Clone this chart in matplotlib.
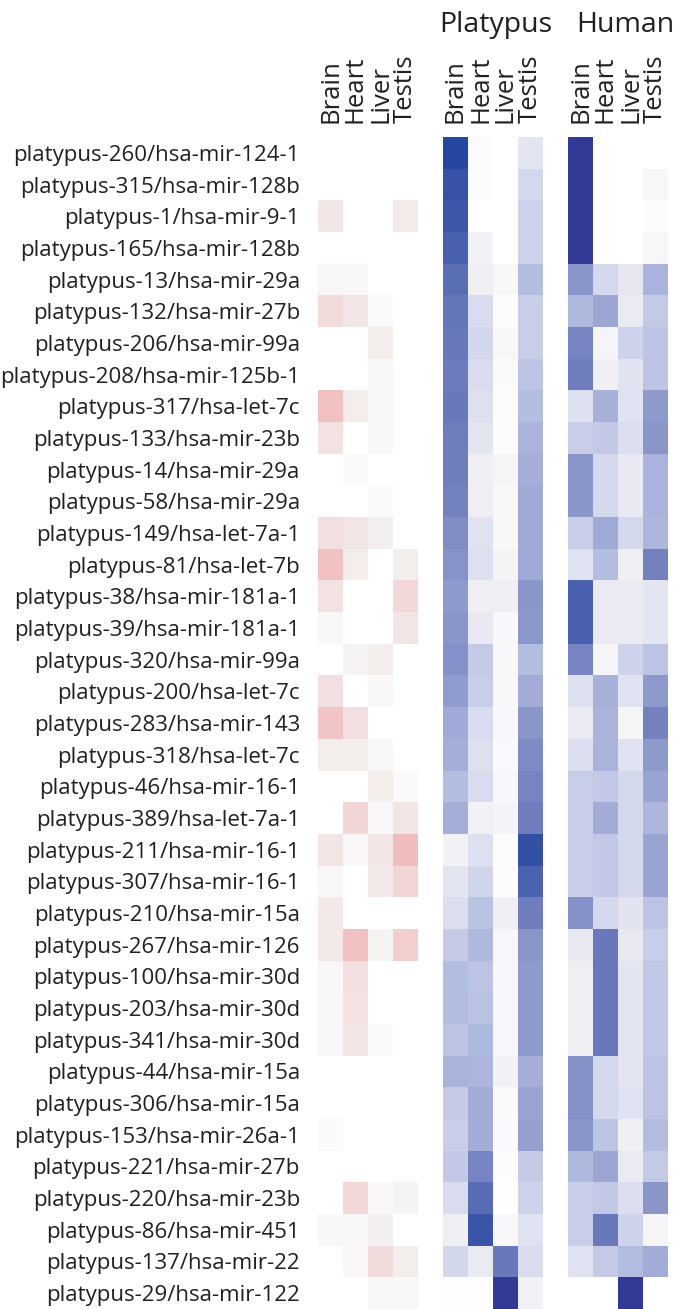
import numpy as np
import matplotlib
matplotlib.use("Agg")
import matplotlib.pyplot as plt
from matplotlib.colors import LinearSegmentedColormap

rows = [
    "platypus-260/hsa-mir-124-1", "platypus-315/hsa-mir-128b", "platypus-1/hsa-mir-9-1",
    "platypus-165/hsa-mir-128b", "platypus-13/hsa-mir-29a", "platypus-132/hsa-mir-27b",
    "platypus-206/hsa-mir-99a", "platypus-208/hsa-mir-125b-1", "platypus-317/hsa-let-7c",
    "platypus-133/hsa-mir-23b", "platypus-14/hsa-mir-29a", "platypus-58/hsa-mir-29a",
    "platypus-149/hsa-let-7a-1", "platypus-81/hsa-let-7b", "platypus-38/hsa-mir-181a-1",
    "platypus-39/hsa-mir-181a-1", "platypus-320/hsa-mir-99a", "platypus-200/hsa-let-7c",
    "platypus-283/hsa-mir-143", "platypus-318/hsa-let-7c", "platypus-46/hsa-mir-16-1",
    "platypus-389/hsa-let-7a-1", "platypus-211/hsa-mir-16-1", "platypus-307/hsa-mir-16-1",
    "platypus-210/hsa-mir-15a", "platypus-267/hsa-mir-126", "platypus-100/hsa-mir-30d",
    "platypus-203/hsa-mir-30d", "platypus-341/hsa-mir-30d", "platypus-44/hsa-mir-15a",
    "platypus-306/hsa-mir-15a", "platypus-153/hsa-mir-26a-1", "platypus-221/hsa-mir-27b",
    "platypus-220/hsa-mir-23b", "platypus-86/hsa-mir-451", "platypus-137/hsa-mir-22",
    "platypus-29/hsa-mir-122",
]
tissues = ["Brain", "Heart", "Liver", "Testis"]
group_titles = ["", "Platypus", "Human"]

# first block (red intensity)
diff_vals = [
    [0.00, 0.00, 0.00, 0.00], [0.00, 0.00, 0.00, 0.00], [0.25, 0.00, 0.00, 0.20],
    [0.00, 0.00, 0.00, 0.00], [0.08, 0.08, 0.00, 0.00], [0.35, 0.25, 0.05, 0.00],
    [0.00, 0.00, 0.18, 0.00], [0.00, 0.00, 0.07, 0.00], [0.55, 0.18, 0.07, 0.00],
    [0.28, 0.00, 0.07, 0.00], [0.00, 0.04, 0.00, 0.00], [0.00, 0.00, 0.04, 0.00],
    [0.30, 0.25, 0.15, 0.00], [0.55, 0.18, 0.00, 0.18], [0.28, 0.00, 0.00, 0.37],
    [0.07, 0.00, 0.00, 0.25], [0.00, 0.10, 0.18, 0.00], [0.30, 0.00, 0.07, 0.00],
    [0.52, 0.30, 0.00, 0.00], [0.18, 0.18, 0.08, 0.00], [0.00, 0.00, 0.18, 0.04],
    [0.00, 0.40, 0.08, 0.25], [0.25, 0.07, 0.25, 0.58], [0.08, 0.00, 0.22, 0.40],
    [0.22, 0.00, 0.00, 0.00], [0.22, 0.55, 0.10, 0.45], [0.08, 0.30, 0.00, 0.00],
    [0.08, 0.28, 0.00, 0.00], [0.08, 0.25, 0.04, 0.00], [0.00, 0.00, 0.00, 0.00],
    [0.00, 0.00, 0.00, 0.00], [0.04, 0.00, 0.00, 0.00], [0.00, 0.00, 0.00, 0.00],
    [0.00, 0.38, 0.08, 0.10], [0.07, 0.08, 0.15, 0.00], [0.00, 0.08, 0.35, 0.18],
    [0.00, 0.00, 0.07, 0.07],
]

platypus_vals = [
    [0.95, 0.02, 0.00, 0.15], [0.89, 0.02, 0.00, 0.22], [0.87, 0.00, 0.00, 0.25],
    [0.83, 0.08, 0.00, 0.25], [0.76, 0.09, 0.05, 0.40], [0.72, 0.20, 0.02, 0.28],
    [0.70, 0.23, 0.05, 0.28], [0.69, 0.20, 0.03, 0.34], [0.70, 0.18, 0.02, 0.40],
    [0.68, 0.15, 0.02, 0.45], [0.68, 0.09, 0.06, 0.48], [0.67, 0.10, 0.04, 0.50],
    [0.63, 0.17, 0.04, 0.50], [0.61, 0.18, 0.07, 0.50], [0.58, 0.10, 0.10, 0.60],
    [0.60, 0.13, 0.04, 0.59], [0.62, 0.30, 0.04, 0.40], [0.57, 0.28, 0.04, 0.49],
    [0.50, 0.20, 0.04, 0.60], [0.48, 0.18, 0.03, 0.64], [0.40, 0.20, 0.04, 0.66],
    [0.48, 0.08, 0.07, 0.68], [0.08, 0.18, 0.02, 0.90], [0.15, 0.24, 0.02, 0.82],
    [0.19, 0.36, 0.09, 0.68], [0.30, 0.42, 0.05, 0.60], [0.40, 0.35, 0.05, 0.58],
    [0.40, 0.36, 0.05, 0.58], [0.35, 0.42, 0.05, 0.58], [0.45, 0.44, 0.08, 0.48],
    [0.30, 0.49, 0.03, 0.53], [0.28, 0.49, 0.03, 0.55], [0.31, 0.66, 0.02, 0.30],
    [0.20, 0.77, 0.01, 0.25], [0.10, 0.88, 0.04, 0.17], [0.23, 0.12, 0.70, 0.20],
    [0.01, 0.01, 1.00, 0.08],
]

human_vals = [
    [1.00, 0.00, 0.00, 0.00], [1.00, 0.00, 0.00, 0.05], [1.00, 0.00, 0.00, 0.02],
    [1.00, 0.00, 0.00, 0.05], [0.60, 0.22, 0.14, 0.45], [0.42, 0.52, 0.12, 0.30],
    [0.66, 0.06, 0.25, 0.35], [0.68, 0.09, 0.16, 0.35], [0.18, 0.47, 0.17, 0.58],
    [0.28, 0.31, 0.19, 0.60], [0.60, 0.22, 0.13, 0.45], [0.60, 0.22, 0.13, 0.45],
    [0.28, 0.50, 0.22, 0.43], [0.17, 0.40, 0.10, 0.67], [0.83, 0.12, 0.12, 0.15],
    [0.83, 0.12, 0.12, 0.15], [0.66, 0.06, 0.25, 0.35], [0.18, 0.47, 0.17, 0.58],
    [0.12, 0.45, 0.06, 0.67], [0.19, 0.45, 0.17, 0.58], [0.28, 0.31, 0.22, 0.53],
    [0.28, 0.49, 0.22, 0.43], [0.28, 0.31, 0.22, 0.53], [0.28, 0.31, 0.22, 0.53],
    [0.62, 0.22, 0.16, 0.35], [0.13, 0.70, 0.13, 0.28], [0.10, 0.70, 0.15, 0.32],
    [0.10, 0.70, 0.15, 0.32], [0.10, 0.70, 0.15, 0.32], [0.62, 0.22, 0.15, 0.35],
    [0.62, 0.22, 0.17, 0.35], [0.60, 0.34, 0.09, 0.40], [0.42, 0.52, 0.12, 0.30],
    [0.28, 0.31, 0.19, 0.60], [0.28, 0.70, 0.25, 0.06], [0.17, 0.30, 0.41, 0.49],
    [0.00, 0.00, 1.00, 0.00],
]

blue_cmap = LinearSegmentedColormap.from_list("blues", [
    (0.0, "#FFFFFF"), (0.1, "#EEEEF3"), (0.2, "#D8DCEE"), (0.3, "#C4C9E6"),
    (0.4, "#B3BDE0"), (0.5, "#A0AAD6"), (0.6, "#8A96CA"), (0.7, "#6A78BA"),
    (0.8, "#5068B0"), (0.9, "#3550A5"), (0.95, "#2448A0"), (1.0, "#333A96")])
red_cmap = LinearSegmentedColormap.from_list("reds", [
    (0.0, "#FFFFFF"), (0.1, "#F6F3F3"), (0.2, "#F2EBEA"), (0.3, "#F2E0E0"),
    (0.4, "#F2D5D5"), (0.5, "#F2C8C8"), (0.6, "#EFBABA"), (1.0, "#E08080")])

W, H = 677, 1309
fig = plt.figure(figsize=(W / 100, H / 100), dpi=100)
FONT = ["Open Sans", "DejaVu Sans"]
TXT = "#231F20"

top_px = 137
grid_h = H - top_px
lefts = [318, 443, 568]
gw = 100

datasets = [(diff_vals, red_cmap), (platypus_vals, blue_cmap), (human_vals, blue_cmap)]
axes = []
for i, (vals, cmap) in enumerate(datasets):
    ax = fig.add_axes([lefts[i] / W, 0, gw / W, grid_h / H])
    arr = np.array(vals)
    ax.pcolormesh(np.arange(5), np.arange(len(rows) + 1), arr, cmap=cmap,
                  vmin=0, vmax=1, shading="flat")
    ax.set_xlim(0, 4)
    ax.set_ylim(len(rows), 0)
    for s in ax.spines.values():
        s.set_visible(False)
    ax.xaxis.tick_top()
    ax.set_xticks(np.arange(4) + 0.5)
    ax.set_xticklabels(tissues, rotation=90, fontsize=18.5, family=FONT, color=TXT)
    ax.tick_params(axis="x", length=0, pad=10)
    if i == 0:
        ax.set_yticks(np.arange(len(rows)) + 0.5)
        ax.set_yticklabels(rows, fontsize=16, family=FONT, color=TXT)
        ax.tick_params(axis="y", length=0, pad=13)
    else:
        ax.set_yticks([])
    axes.append(ax)

title_x = [None, 496, 625]
for i, t in enumerate(group_titles):
    if t:
        fig.text(title_x[i] / W, 1 - 32 / H, t, ha="center", va="baseline",
                 fontsize=20.5, family=FONT, color=TXT)

fig.savefig("out.png", dpi=100)
